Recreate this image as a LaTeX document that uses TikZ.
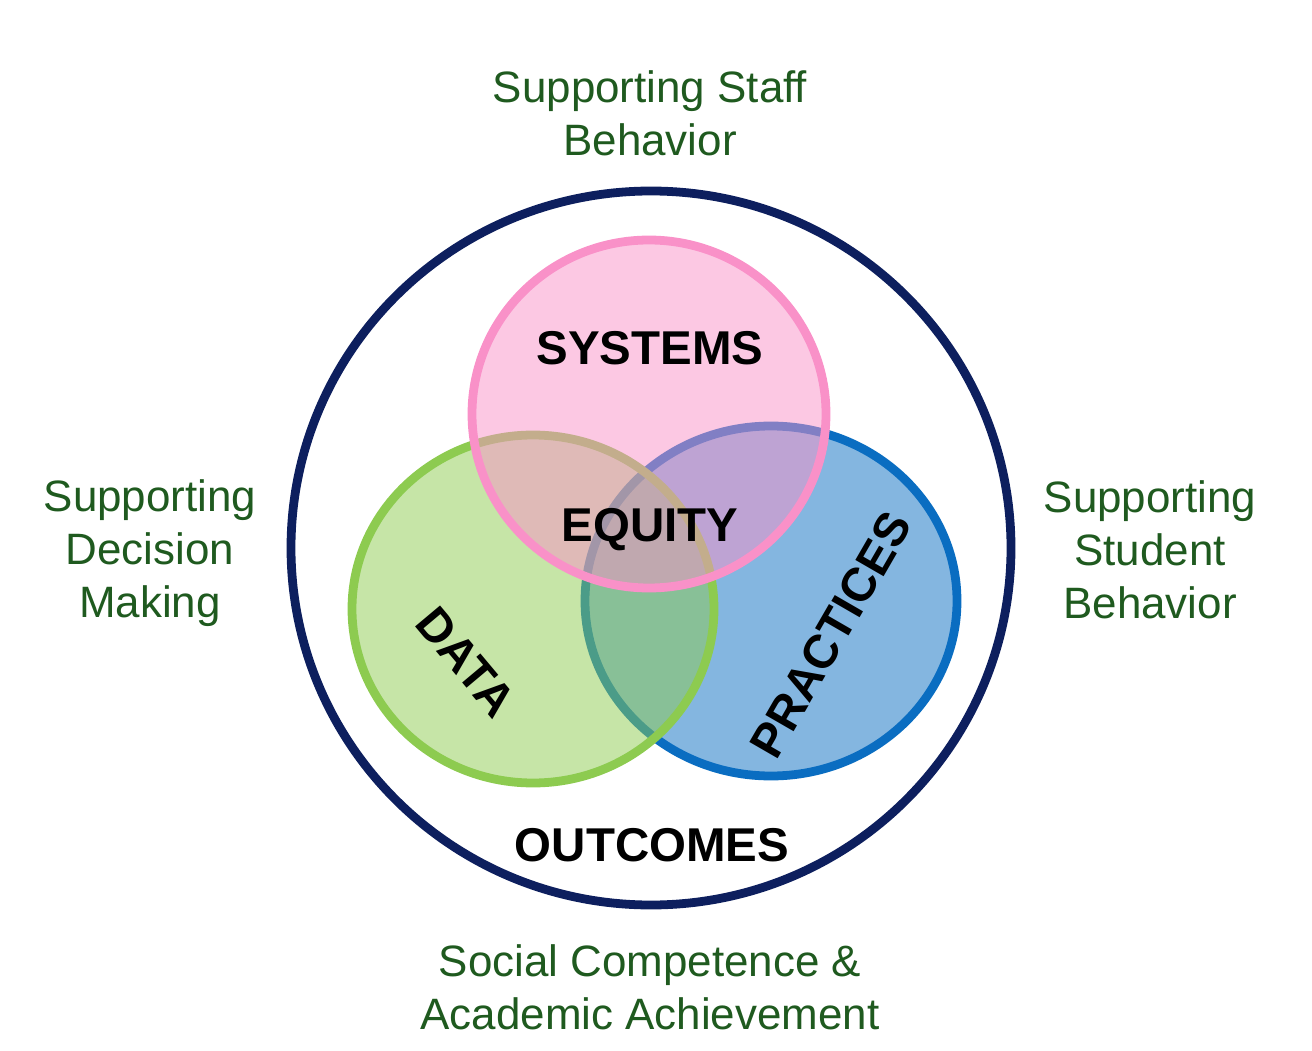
\documentclass[tikz,border=0pt]{standalone}
\usepackage{fontspec}
\setmainfont{Liberation Sans}
\usepackage{tikz}

\definecolor{navyring}{HTML}{0D1F5E}
\definecolor{pinkset}{HTML}{F991C8}
\definecolor{greenset}{HTML}{8DCB50}
\definecolor{blueset}{HTML}{0A6DC1}
\definecolor{leaftext}{HTML}{1F5A1F}

\begin{document}
\begin{tikzpicture}[
    setring/.style={line width=5pt, draw=#1, fill=#1, fill opacity=0.5, draw opacity=1},
    bigword/.style={font=\fontsize{27}{32}\selectfont\bfseries, text=black},
    sideword/.style={font=\fontsize{25}{30}\selectfont, text=leaftext, align=center}
]
    % Fix the page size
    \useasboundingbox (0,0) rectangle (26.24,21);

    % Draw the outer circle
    \draw[line width=5pt, navyring] (13.02,10.04) ellipse (7.2 and 7.14);

    % Draw the three sets
    \draw[setring=blueset] (15.42,8.98) ellipse (3.72 and 3.5);
    \draw[setring=greenset] (10.66,8.82) ellipse (3.62 and 3.48);
    \draw[setring=pinkset] (12.98,12.72) ellipse (3.54 and 3.48);

    % Label the sets
    \node[bigword] (systems) at (13.0,14.04) {SYSTEMS};
    \node[bigword] (equity) at (13.0,10.4) {EQUITY};
    \node[bigword, rotate=-50] (data) at (9.32,7.76) {DATA};
    \node[bigword, rotate=60] (practices) at (16.62,8.3) {PRACTICES};
    \node[bigword] (outcomes) at (13.04,4.1) {OUTCOMES};

    % Label the sides
    \node[sideword] (staff) at (13.0,18.74) {Supporting Staff\\Behavior};
    \node[sideword] (decision) at (3.0,9.94) {Supporting\\Decision\\Making};
    \node[sideword] (student) at (23.0,10.0) {Supporting\\Student\\Behavior};
    \node[sideword] (achieve) at (13.0,1.26) {Social Competence \&\\Academic Achievement};

\end{tikzpicture}
\end{document}
